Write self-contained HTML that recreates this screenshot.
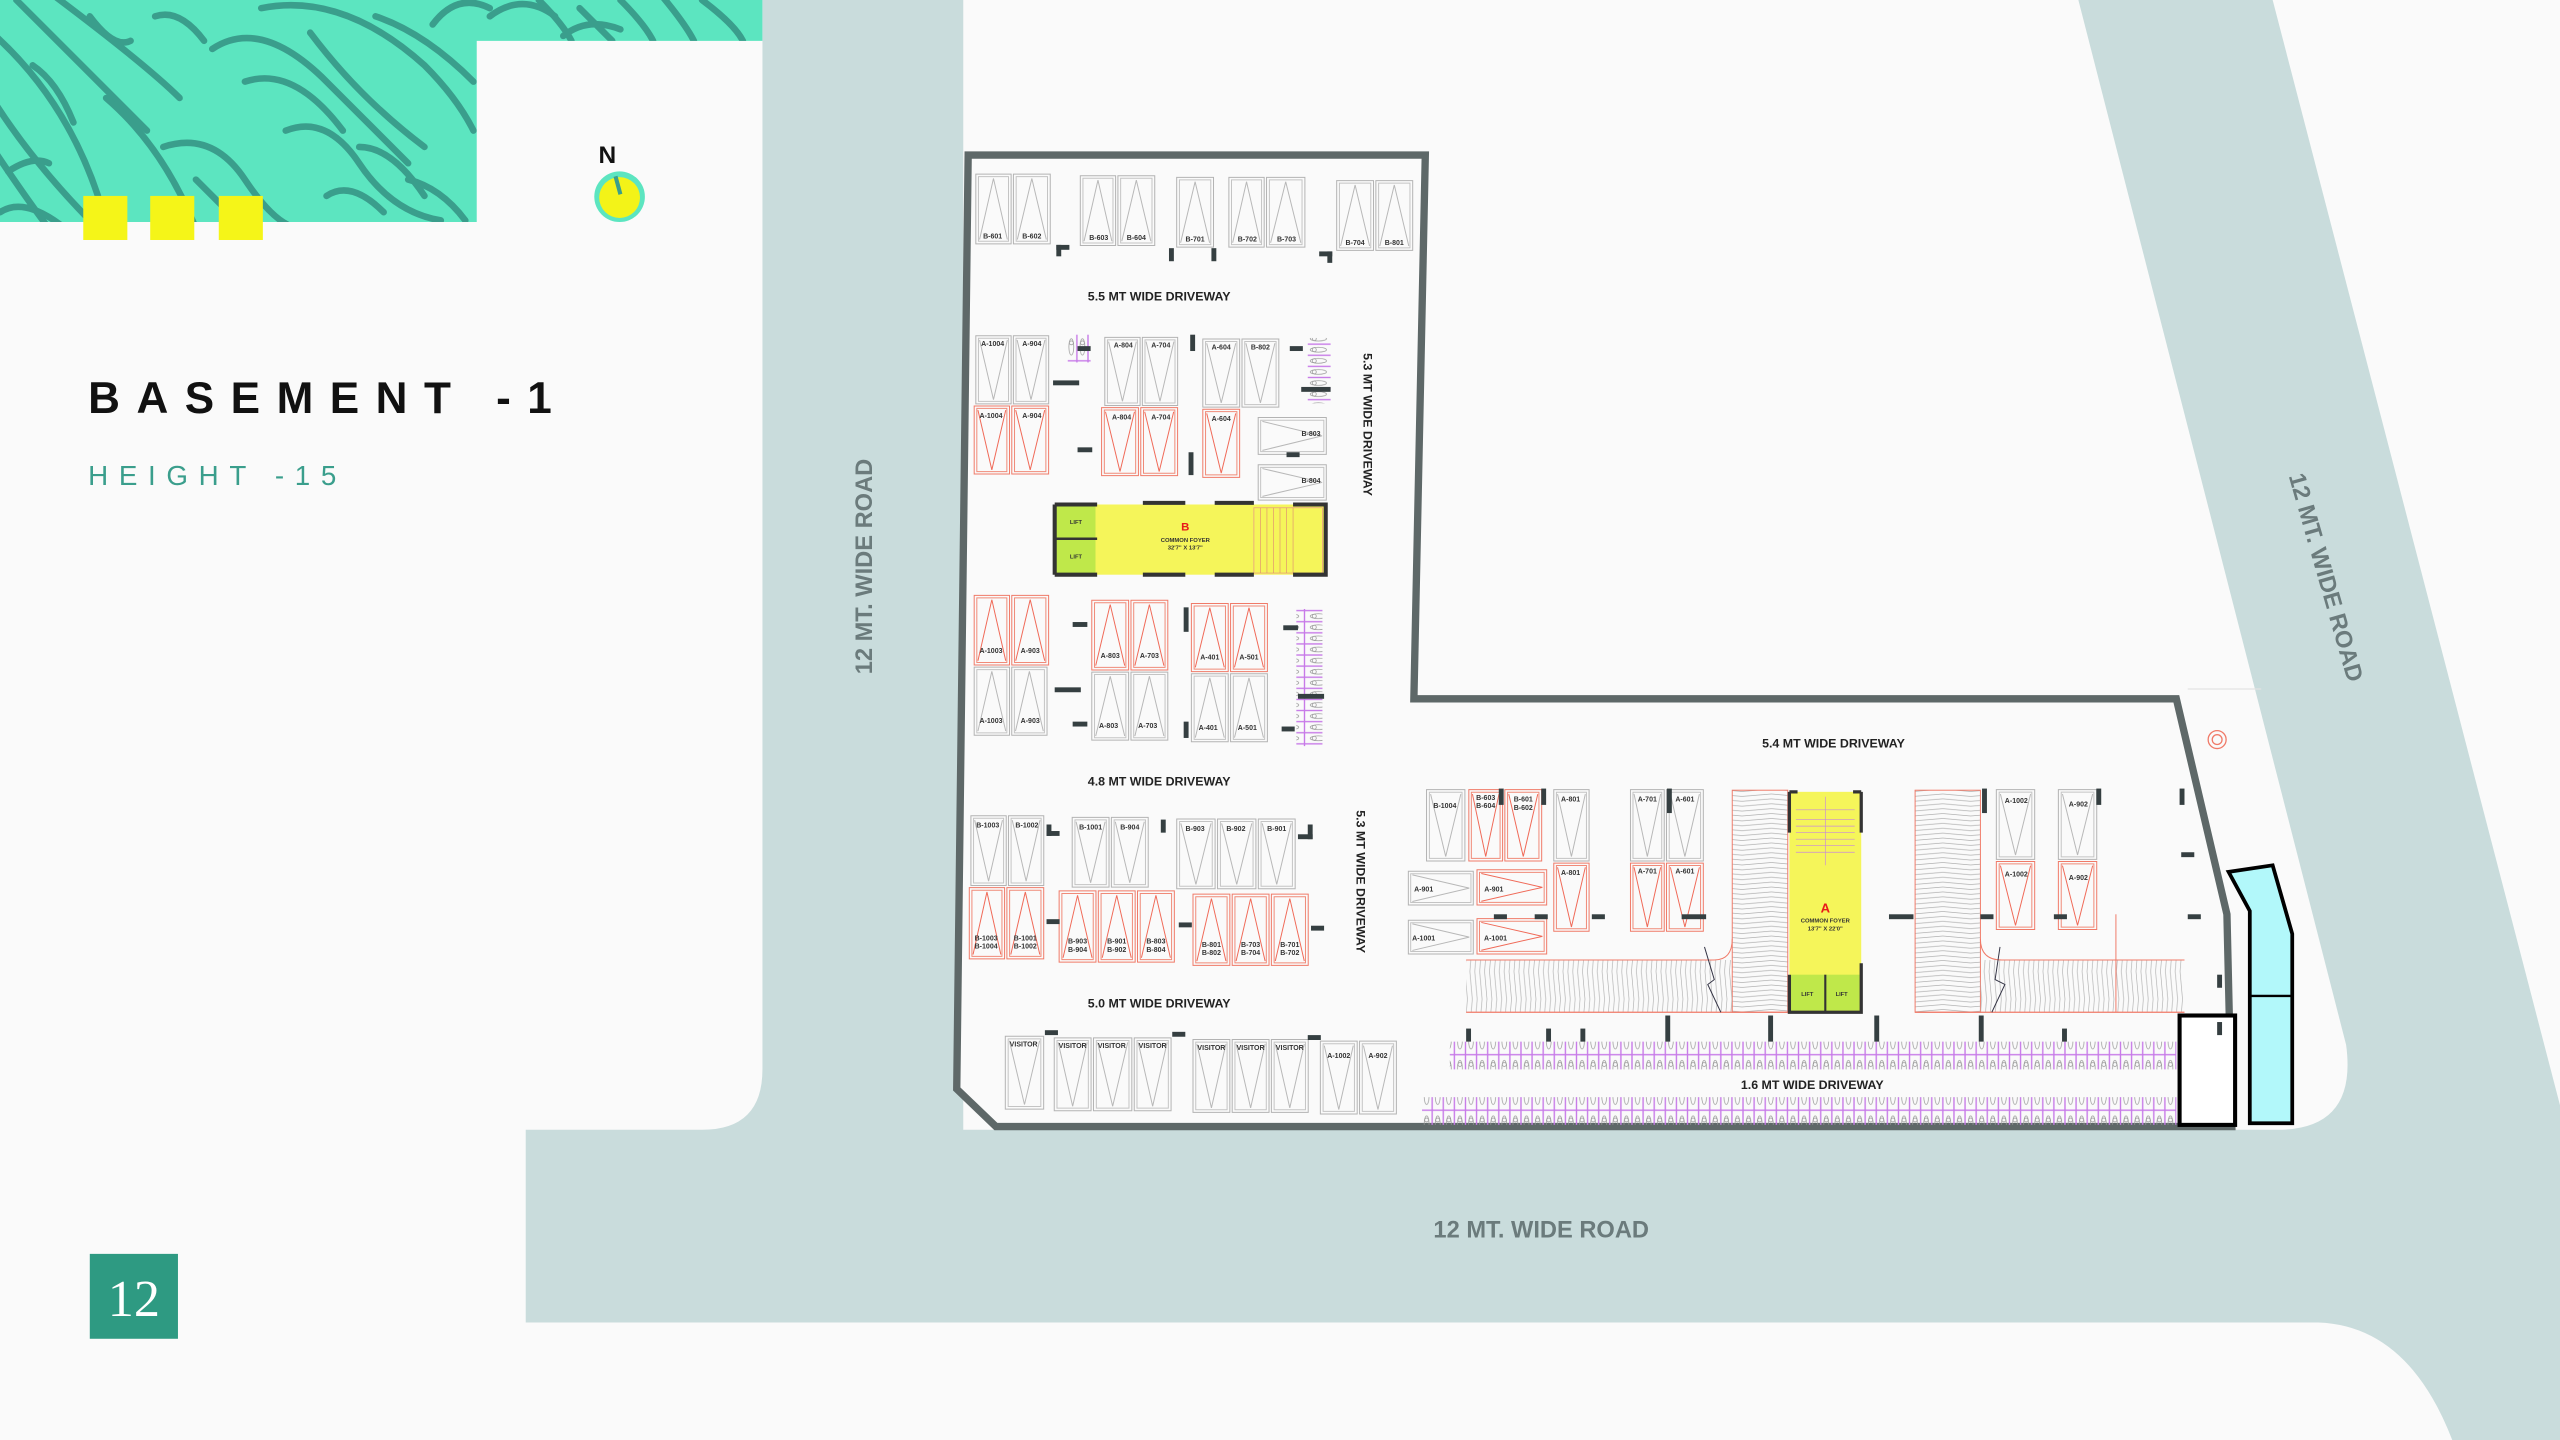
<!DOCTYPE html>
<html><head><meta charset="utf-8"><style>
html,body{margin:0;padding:0;background:#fafafa;}
svg{display:block}
.l{font-family:"Liberation Sans",sans-serif;font-weight:bold;font-size:4.3px;fill:#333;text-anchor:middle}
.d{font-family:"Liberation Sans",sans-serif;font-weight:bold;font-size:7.6px;fill:#222;text-anchor:middle}
.r{font-family:"Liberation Sans",sans-serif;font-weight:bold;font-size:14.5px;fill:#6b7b7c;text-anchor:middle}
</style></head><body>
<svg width="2560" height="1440" viewBox="0 0 1568 882" xmlns="http://www.w3.org/2000/svg">
<defs>
<symbol id="sv" viewBox="0 0 10 20" preserveAspectRatio="none"><rect x=".3" y=".3" width="9.4" height="19.4" fill="none" stroke="#b3b3b3" stroke-width="1" vector-effect="non-scaling-stroke"/><rect x="1" y="1" width="8" height="18" fill="none" stroke="#c4c4c4" stroke-width="1" vector-effect="non-scaling-stroke"/><path d="M1.3 1.5L5 18.5L8.7 1.5" fill="none" stroke="#b8b8b8" stroke-width="1" vector-effect="non-scaling-stroke"/></symbol>
<symbol id="su" viewBox="0 0 10 20" preserveAspectRatio="none"><rect x=".3" y=".3" width="9.4" height="19.4" fill="none" stroke="#b3b3b3" stroke-width="1" vector-effect="non-scaling-stroke"/><rect x="1" y="1" width="8" height="18" fill="none" stroke="#c4c4c4" stroke-width="1" vector-effect="non-scaling-stroke"/><path d="M1.3 18.5L5 1.5L8.7 18.5" fill="none" stroke="#b8b8b8" stroke-width="1" vector-effect="non-scaling-stroke"/></symbol>
<symbol id="rv" viewBox="0 0 10 20" preserveAspectRatio="none"><rect x=".3" y=".3" width="9.4" height="19.4" fill="none" stroke="#f07a68" stroke-width="1" vector-effect="non-scaling-stroke"/><rect x="1" y="1" width="8" height="18" fill="none" stroke="#f08a78" stroke-width="1" vector-effect="non-scaling-stroke"/><path d="M1.3 1.5L5 18.5L8.7 1.5" fill="none" stroke="#f06a58" stroke-width="1" vector-effect="non-scaling-stroke"/></symbol>
<symbol id="ru" viewBox="0 0 10 20" preserveAspectRatio="none"><rect x=".3" y=".3" width="9.4" height="19.4" fill="none" stroke="#f07a68" stroke-width="1" vector-effect="non-scaling-stroke"/><rect x="1" y="1" width="8" height="18" fill="none" stroke="#f08a78" stroke-width="1" vector-effect="non-scaling-stroke"/><path d="M1.3 18.5L5 1.5L8.7 18.5" fill="none" stroke="#f06a58" stroke-width="1" vector-effect="non-scaling-stroke"/></symbol>
<symbol id="gh" viewBox="0 0 20 10" preserveAspectRatio="none"><rect x=".3" y=".3" width="19.4" height="9.4" fill="none" stroke="#b3b3b3" stroke-width="1" vector-effect="non-scaling-stroke"/><rect x="1" y="1" width="18" height="8" fill="none" stroke="#c4c4c4" stroke-width="1" vector-effect="non-scaling-stroke"/><path d="M1.5 1.3L18.5 5L1.5 8.7" fill="none" stroke="#b8b8b8" stroke-width="1" vector-effect="non-scaling-stroke"/></symbol>
<symbol id="rh" viewBox="0 0 20 10" preserveAspectRatio="none"><rect x=".3" y=".3" width="19.4" height="9.4" fill="none" stroke="#f07a68" stroke-width="1" vector-effect="non-scaling-stroke"/><rect x="1" y="1" width="18" height="8" fill="none" stroke="#f08a78" stroke-width="1" vector-effect="non-scaling-stroke"/><path d="M1.5 1.3L18.5 5L1.5 8.7" fill="none" stroke="#f06a58" stroke-width="1" vector-effect="non-scaling-stroke"/></symbol>
<pattern id="bk" width="6.8" height="17" patternUnits="userSpaceOnUse"><rect x=".2" y=".2" width="6.4" height="16.6" fill="none" stroke="#c77ae8" stroke-width=".45"/><ellipse cx="3.4" cy="8.5" rx="1.5" ry="5" fill="none" stroke="#999" stroke-width=".45"/><circle cx="3.4" cy="6" r="1.2" fill="none" stroke="#888" stroke-width=".4"/></pattern>
<pattern id="bkh" width="17" height="6.8" patternUnits="userSpaceOnUse"><rect x=".2" y=".2" width="16.6" height="6.4" fill="none" stroke="#c77ae8" stroke-width=".45"/><ellipse cx="8.5" cy="3.4" rx="5" ry="1.5" fill="none" stroke="#999" stroke-width=".45"/><circle cx="6" cy="3.4" r="1.2" fill="none" stroke="#888" stroke-width=".4"/></pattern>
<pattern id="hv" width="35" height="3" patternUnits="userSpaceOnUse"><path d="M0 0.3L17 1.8L35 0.3" fill="none" stroke="#b0b0b0" stroke-width=".4"/></pattern>
<pattern id="hh" width="3" height="35" patternUnits="userSpaceOnUse"><path d="M0.3 0L1.8 17L0.3 35" fill="none" stroke="#b0b0b0" stroke-width=".4"/></pattern>
<clipPath id="tc"><path d="M0 0H467V25H292V136H0Z"/></clipPath>
</defs>

<!-- roads -->
<rect width="1568" height="882" fill="#c9dcdc"/>
<path d="M0 0H467V655Q467 692 430 692H322V810H1420Q1475 812 1502 882H0Z" fill="#fafafa"/>
<path d="M590 0H1273L1437 640Q1444 692 1395 692H590Z" fill="#fafafa"/>
<path d="M1392 0H1568V677Z" fill="#fafafa"/>
<line x1="1340" y1="422" x2="1385" y2="422" stroke="#e3e3e3" stroke-width=".8"/>

<!-- teal pattern -->
<g clip-path="url(#tc)">
<rect width="467" height="136" fill="#5ce5c0"/>
<g fill="none" stroke="#3a9e8c" stroke-width="4" stroke-linecap="round">
<path d="M-5 20Q40 60 60 120"/><path d="M10 0Q60 50 90 80"/><path d="M30 -5Q90 40 110 60"/>
<path d="M-5 60Q20 100 60 140"/><path d="M-5 90Q15 120 30 140"/><path d="M0 130Q15 120 40 140"/>
<path d="M55 10Q70 30 80 25"/><path d="M65 60Q100 90 120 140"/><path d="M100 90Q130 80 150 110Q170 140 185 140"/>
<path d="M130 30Q160 10 200 50Q230 80 250 100"/><path d="M150 50Q180 40 210 80"/><path d="M190 20Q220 60 260 90"/>
<path d="M160 5Q210 -5 260 40Q280 60 290 80"/><path d="M230 10Q260 20 290 50"/><path d="M175 80Q200 70 220 100Q240 130 270 135"/>
<path d="M220 90Q240 90 260 120"/><path d="M120 110Q140 130 150 140"/><path d="M200 120Q215 110 235 130"/>
<path d="M265 15Q280 -5 300 5"/><path d="M300 10Q320 -5 340 10"/><path d="M330 0Q345 15 350 25"/>
<path d="M355 5Q370 20 375 25"/><path d="M380 0Q395 15 400 25"/><path d="M405 -3Q420 15 425 25"/><path d="M430 0Q450 15 455 25"/><path d="M345 22Q360 10 380 18"/>
<path d="M20 40Q35 50 45 75"/><path d="M95 10Q110 5 125 25"/><path d="M250 110Q270 115 285 135"/><path d="M5 105Q20 95 30 100"/>
</g></g>
<rect x="51" y="120" width="27" height="27" fill="#f5f518"/>
<rect x="92" y="120" width="27" height="27" fill="#f5f518"/>
<rect x="134" y="120" width="27" height="27" fill="#f5f518"/>

<!-- north -->
<text x="372" y="100" font-family="Liberation Sans,sans-serif" font-size="15" font-weight="bold" fill="#111" text-anchor="middle">N</text>
<ellipse cx="379.5" cy="120.5" rx="15.5" ry="15.5" fill="#5ce5c0"/>
<circle cx="379.5" cy="121" r="12.5" fill="#f3f318"/>
<line x1="377" y1="108" x2="380" y2="119" stroke="#3a9e8c" stroke-width="2.5"/>

<!-- titles -->
<text x="54" y="253" font-family="Liberation Sans,sans-serif" font-size="27" font-weight="bold" fill="#111" textLength="284" lengthAdjust="spacing">BASEMENT -1</text>
<text x="54" y="297" font-family="Liberation Sans,sans-serif" font-size="17" fill="#3a9e8c" textLength="152" lengthAdjust="spacing">HEIGHT -15</text>
<rect x="55" y="768" width="54" height="52" fill="#2e9a82"/>
<text x="82" y="806" font-family="Liberation Serif,serif" font-size="32" fill="#fff" text-anchor="middle">12</text>

<!-- road labels -->
<text class="r" transform="translate(534,347) rotate(-90)">12 MT. WIDE ROAD</text>
<text class="r" transform="translate(1420,355) rotate(74)">12 MT. WIDE ROAD</text>
<text class="r" x="944" y="758">12 MT. WIDE ROAD</text>

<!-- plan outline -->
<path d="M593 95H873L866 428H1333L1364 560L1367 690H610L586 667Z" fill="#fafafa" stroke="#5e6868" stroke-width="4.5" stroke-linejoin="miter"/>

<!-- cyan -->
<path d="M1365 534L1392 530L1404 572V688H1378V558Z" fill="#b2f8fa" stroke="#000" stroke-width="2.3"/>
<line x1="1378" y1="610" x2="1404" y2="610" stroke="#000" stroke-width="1.5"/>
<rect x="1335" y="622" width="34" height="67" fill="#fff" stroke="#000" stroke-width="2.5"/>
<circle cx="1358" cy="453" r="5.5" fill="none" stroke="#f07a68" stroke-width=".8"/><circle cx="1358" cy="453" r="3" fill="none" stroke="#f07a68" stroke-width=".8"/>

<!-- driveway labels -->
<text class="d" x="710" y="184">5.5 MT WIDE DRIVEWAY</text>
<text class="d" x="710" y="481">4.8 MT WIDE DRIVEWAY</text>
<text class="d" x="710" y="617">5.0 MT WIDE DRIVEWAY</text>
<text class="d" x="1123" y="458">5.4 MT WIDE DRIVEWAY</text>
<text class="d" x="1110" y="667">1.6 MT WIDE DRIVEWAY</text>
<text class="d" transform="translate(835,260) rotate(90)">5.3 MT WIDE DRIVEWAY</text>
<text class="d" transform="translate(831,540) rotate(90)">5.3 MT WIDE DRIVEWAY</text>

<!-- top row B -->
<g>
<use href="#su" x="597" y="106" width="23" height="44"/><use href="#su" x="620" y="106" width="24" height="44"/>
<use href="#su" x="661" y="107" width="23" height="44"/><use href="#su" x="684" y="107" width="24" height="44"/>
<use href="#su" x="720" y="108" width="24" height="44"/>
<use href="#su" x="752" y="108" width="23" height="44"/><use href="#su" x="775" y="108" width="25" height="44"/>
<use href="#su" x="818" y="110" width="24" height="44"/><use href="#su" x="842" y="110" width="24" height="44"/>
</g>
<text class="l" x="608" y="146">B-601</text><text class="l" x="632" y="146">B-602</text>
<text class="l" x="673" y="147">B-603</text><text class="l" x="696" y="147">B-604</text>
<text class="l" x="732" y="148">B-701</text><text class="l" x="764" y="148">B-702</text><text class="l" x="788" y="148">B-703</text>
<text class="l" x="830" y="150">B-704</text><text class="l" x="854" y="150">B-801</text>

<!-- row 2 -->
<use href="#sv" x="597" y="205" width="23" height="43"/><use href="#sv" x="620" y="205" width="23" height="43"/>
<use href="#sv" x="676" y="206" width="23" height="43"/><use href="#sv" x="699" y="206" width="23" height="43"/>
<use href="#sv" x="736" y="207" width="24" height="43"/><use href="#sv" x="760" y="207" width="24" height="43"/>
<use href="#rv" x="596" y="248" width="23" height="43"/><use href="#rv" x="619" y="248" width="24" height="43"/>
<use href="#rv" x="674" y="249" width="24" height="43"/><use href="#rv" x="698" y="249" width="24" height="43"/>
<use href="#rv" x="736" y="250" width="24" height="43"/>
<use href="#gh" x="770" y="255" width="43" height="24"/><use href="#gh" x="770" y="284" width="43" height="23"/>
<text class="l" x="608" y="212">A-1004</text><text class="l" x="632" y="212">A-904</text>
<text class="l" x="688" y="213">A-804</text><text class="l" x="711" y="213">A-704</text>
<text class="l" x="748" y="214">A-604</text><text class="l" x="772" y="214">B-802</text>
<text class="l" x="607" y="256">A-1004</text><text class="l" x="632" y="256">A-904</text>
<text class="l" x="687" y="257">A-804</text><text class="l" x="711" y="257">A-704</text><text class="l" x="748" y="258">A-604</text>
<text class="l" x="803" y="267">B-803</text><text class="l" x="803" y="296">B-804</text>
<rect x="654" y="205" width="14" height="17" fill="url(#bk)"/>
<rect x="801" y="207" width="14" height="40" fill="url(#bkh)"/>

<!-- foyer B -->
<rect x="646" y="309" width="166" height="43" fill="#f5f55a"/>
<rect x="647" y="310" width="24" height="41" fill="#bfe84a"/>
<line x1="647" y1="330" x2="672" y2="330" stroke="#333" stroke-width="1.5"/>
<rect x="768" y="311" width="42" height="40" fill="none" stroke="#e8a080" stroke-width=".5"/>
<path d="M772 311V351M776 311V351M780 311V351M784 311V351M788 311V351M792 311V351" stroke="#e09070" stroke-width=".4"/>
<path d="M646 309H672M646 352H672M646 309V352" fill="none" stroke="#333" stroke-width="2.5"/>
<path d="M700 308H726M700 352H726M744 308H768M744 352H768M792 309H812V352H792" fill="none" stroke="#333" stroke-width="2.5"/>
<text x="659" y="321" font-family="Liberation Sans,sans-serif" font-size="3.5" font-weight="bold" fill="#333" text-anchor="middle">LIFT</text>
<text x="659" y="342" font-family="Liberation Sans,sans-serif" font-size="3.5" font-weight="bold" fill="#333" text-anchor="middle">LIFT</text>
<text x="726" y="325" font-family="Liberation Sans,sans-serif" font-size="7" font-weight="bold" fill="#e8191a" text-anchor="middle">B</text>
<text x="726" y="332" font-family="Liberation Sans,sans-serif" font-size="3.6" font-weight="bold" fill="#333" text-anchor="middle">COMMON FOYER</text>
<text x="726" y="336.5" font-family="Liberation Sans,sans-serif" font-size="3.6" font-weight="bold" fill="#333" text-anchor="middle">32'7" X 13'7"</text>

<!-- rows 3/4 -->
<use href="#ru" x="596" y="364" width="23" height="44"/><use href="#ru" x="619" y="364" width="24" height="44"/>
<use href="#ru" x="668" y="367" width="24" height="44"/><use href="#ru" x="692" y="367" width="24" height="44"/>
<use href="#ru" x="729" y="369" width="24" height="43"/><use href="#ru" x="753" y="369" width="24" height="43"/>
<use href="#su" x="596" y="408" width="23" height="43"/><use href="#su" x="619" y="408" width="23" height="43"/>
<use href="#su" x="668" y="411" width="24" height="43"/><use href="#su" x="692" y="411" width="24" height="43"/>
<use href="#su" x="729" y="412" width="24" height="43"/><use href="#su" x="753" y="412" width="24" height="43"/>
<rect x="794" y="373" width="16" height="84" fill="url(#bkh)"/>
<text class="l" x="607" y="400">A-1003</text><text class="l" x="631" y="400">A-903</text>
<text class="l" x="680" y="403">A-803</text><text class="l" x="704" y="403">A-703</text>
<text class="l" x="741" y="404">A-401</text><text class="l" x="765" y="404">A-501</text>
<text class="l" x="607" y="443">A-1003</text><text class="l" x="631" y="443">A-903</text>
<text class="l" x="679" y="446">A-803</text><text class="l" x="703" y="446">A-703</text>
<text class="l" x="740" y="447">A-401</text><text class="l" x="764" y="447">A-501</text>

<!-- rows 5/6 -->
<use href="#sv" x="594" y="499" width="23" height="44"/><use href="#sv" x="617" y="499" width="23" height="44"/>
<use href="#sv" x="656" y="500" width="24" height="44"/><use href="#sv" x="680" y="500" width="24" height="44"/>
<use href="#sv" x="720" y="501" width="25" height="44"/><use href="#sv" x="745" y="501" width="25" height="44"/><use href="#sv" x="770" y="501" width="24" height="44"/>
<use href="#ru" x="593" y="543" width="23" height="45"/><use href="#ru" x="616" y="543" width="24" height="45"/>
<use href="#ru" x="648" y="545" width="24" height="45"/><use href="#ru" x="672" y="545" width="24" height="45"/><use href="#ru" x="696" y="545" width="24" height="45"/>
<use href="#ru" x="730" y="547" width="24" height="45"/><use href="#ru" x="754" y="547" width="24" height="45"/><use href="#ru" x="778" y="547" width="24" height="45"/>
<text class="l" x="605" y="507">B-1003</text><text class="l" x="629" y="507">B-1002</text>
<text class="l" x="668" y="508">B-1001</text><text class="l" x="692" y="508">B-904</text>
<text class="l" x="732" y="509">B-903</text><text class="l" x="757" y="509">B-902</text><text class="l" x="782" y="509">B-901</text>
<text class="l" x="604" y="576">B-1003</text><text class="l" x="604" y="581">B-1004</text>
<text class="l" x="628" y="576">B-1001</text><text class="l" x="628" y="581">B-1002</text>
<text class="l" x="660" y="578">B-903</text><text class="l" x="660" y="583">B-904</text>
<text class="l" x="684" y="578">B-901</text><text class="l" x="684" y="583">B-902</text>
<text class="l" x="708" y="578">B-803</text><text class="l" x="708" y="583">B-804</text>
<text class="l" x="742" y="580">B-801</text><text class="l" x="742" y="585">B-802</text>
<text class="l" x="766" y="580">B-703</text><text class="l" x="766" y="585">B-704</text>
<text class="l" x="790" y="580">B-701</text><text class="l" x="790" y="585">B-702</text>

<!-- row 7 visitor -->
<use href="#sv" x="615" y="634" width="25" height="46"/>
<use href="#sv" x="645" y="635" width="24" height="46"/><use href="#sv" x="669" y="635" width="25" height="46"/><use href="#sv" x="694" y="635" width="24" height="46"/>
<use href="#sv" x="730" y="636" width="24" height="46"/><use href="#sv" x="754" y="636" width="24" height="46"/><use href="#sv" x="778" y="636" width="24" height="46"/>
<use href="#sv" x="808" y="637" width="24" height="46"/><use href="#sv" x="832" y="637" width="24" height="46"/>
<text class="l" x="627" y="641">VISITOR</text><text class="l" x="657" y="642">VISITOR</text><text class="l" x="681" y="642">VISITOR</text><text class="l" x="706" y="642">VISITOR</text>
<text class="l" x="742" y="643">VISITOR</text><text class="l" x="766" y="643">VISITOR</text><text class="l" x="790" y="643">VISITOR</text>
<text class="l" x="820" y="648">A-1002</text><text class="l" x="844" y="648">A-902</text>

<!-- right wing slots -->
<use href="#sv" x="873" y="483" width="25" height="45"/>
<use href="#rv" x="899" y="483" width="22" height="45"/><use href="#rv" x="921" y="483" width="24" height="45"/>
<use href="#sv" x="951" y="483" width="23" height="45"/>
<use href="#sv" x="998" y="483" width="22" height="45"/><use href="#sv" x="1020" y="483" width="24" height="45"/>
<use href="#rv" x="951" y="528" width="23" height="43"/>
<use href="#rv" x="998" y="528" width="22" height="43"/><use href="#rv" x="1020" y="528" width="24" height="43"/>
<use href="#gh" x="862" y="533" width="41" height="22"/><use href="#rh" x="904" y="532" width="44" height="23"/>
<use href="#gh" x="862" y="563" width="41" height="22"/><use href="#rh" x="904" y="562" width="44" height="23"/>
<use href="#sv" x="1222" y="483" width="25" height="44"/><use href="#sv" x="1260" y="483" width="25" height="44"/>
<use href="#rv" x="1222" y="527" width="25" height="43"/><use href="#rv" x="1260" y="527" width="25" height="43"/>
<text class="l" x="885" y="495">B-1004</text>
<text class="l" x="910" y="490">B-603</text><text class="l" x="910" y="495">B-604</text>
<text class="l" x="933" y="491">B-601</text><text class="l" x="933" y="496">B-602</text>
<text class="l" x="962" y="491">A-801</text><text class="l" x="1009" y="491">A-701</text><text class="l" x="1032" y="491">A-601</text>
<text class="l" x="962" y="536">A-801</text><text class="l" x="1009" y="535">A-701</text><text class="l" x="1032" y="535">A-601</text>
<text class="l" x="872" y="546">A-901</text><text class="l" x="915" y="546">A-901</text>
<text class="l" x="872" y="576">A-1001</text><text class="l" x="916" y="576">A-1001</text>
<text class="l" x="1235" y="492">A-1002</text><text class="l" x="1273" y="494">A-902</text>
<text class="l" x="1235" y="537">A-1002</text><text class="l" x="1273" y="539">A-902</text>

<!-- ramps -->
<rect x="1061" y="484" width="34" height="136" fill="url(#hv)" stroke="#f07a68" stroke-width=".6"/>
<rect x="898" y="588" width="163" height="32" fill="url(#hh)"/>
<path d="M898 588H1050Q1061 588 1061 575" fill="none" stroke="#f07a68" stroke-width=".6"/>
<line x1="898" y1="620" x2="1095" y2="620" stroke="#f07a68" stroke-width=".8"/>
<rect x="1173" y="484" width="40" height="136" fill="url(#hv)" stroke="#f07a68" stroke-width=".6"/>
<rect x="1213" y="588" width="125" height="32" fill="url(#hh)"/>
<path d="M1213 575Q1213 588 1226 588H1338" fill="none" stroke="#f07a68" stroke-width=".6"/>
<line x1="1173" y1="620" x2="1338" y2="620" stroke="#f07a68" stroke-width=".8"/>
<line x1="1296" y1="560" x2="1296" y2="620" stroke="#f07a68" stroke-width=".6"/>
<path d="M1044 580L1050 600L1046 603L1054 620" fill="none" stroke="#334" stroke-width=".6"/>
<path d="M1225 580L1222 600L1228 603L1220 620" fill="none" stroke="#334" stroke-width=".6"/>

<!-- foyer A -->
<rect x="1096" y="485" width="44" height="135" fill="#f5f55a"/>
<rect x="1097" y="597" width="42" height="22" fill="#bfe84a"/>
<line x1="1118" y1="597" x2="1118" y2="620" stroke="#333" stroke-width="1.3"/>
<path d="M1100 496H1136M1100 502H1136M1100 506H1136M1100 510H1136M1100 514H1136M1100 518H1136M1100 522H1136M1118 488V530" stroke="#c98ad8" stroke-width=".4"/>
<path d="M1096 485V510M1140 485V510M1096 597V620H1140V590M1096 485H1101M1135 485H1140" fill="none" stroke="#333" stroke-width="2"/>
<text x="1118" y="559" font-family="Liberation Sans,sans-serif" font-size="8" font-weight="bold" fill="#e8191a" text-anchor="middle">A</text>
<text x="1118" y="565" font-family="Liberation Sans,sans-serif" font-size="3.6" font-weight="bold" fill="#333" text-anchor="middle">COMMON FOYER</text>
<text x="1118" y="570" font-family="Liberation Sans,sans-serif" font-size="3.6" font-weight="bold" fill="#333" text-anchor="middle">13'7" X 22'0"</text>
<text x="1107" y="610" font-family="Liberation Sans,sans-serif" font-size="3.5" font-weight="bold" fill="#333" text-anchor="middle">LIFT</text>
<text x="1128" y="610" font-family="Liberation Sans,sans-serif" font-size="3.5" font-weight="bold" fill="#333" text-anchor="middle">LIFT</text>

<!-- bike rows -->
<rect x="888" y="638" width="445" height="17" fill="url(#bk)"/>
<rect x="871" y="672" width="462" height="17" fill="url(#bk)"/>

<!-- pillars -->
<g fill="#353f41">
<rect x="647" y="150" width="3" height="7"/><rect x="647" y="150" width="8" height="3"/>
<rect x="716" y="152" width="3" height="8"/><rect x="742" y="152" width="3" height="8"/>
<rect x="808" y="154" width="8" height="3"/><rect x="813" y="154" width="3" height="7"/>
<rect x="660" y="212" width="8" height="3"/><rect x="645" y="233" width="16" height="3"/><rect x="729" y="205" width="3" height="10"/>
<rect x="790" y="212" width="8" height="3"/><rect x="797" y="237" width="18" height="3"/><rect x="660" y="274" width="9" height="3"/><rect x="728" y="277" width="3" height="14"/><rect x="788" y="277" width="8" height="3"/>
<rect x="657" y="381" width="9" height="3"/><rect x="646" y="421" width="16" height="3"/><rect x="657" y="442" width="9" height="3"/>
<rect x="725" y="372" width="3" height="15"/><rect x="725" y="442" width="3" height="10"/><rect x="786" y="383" width="9" height="3"/><rect x="795" y="425" width="16" height="3"/><rect x="785" y="445" width="8" height="3"/>
<rect x="641" y="505" width="3" height="7"/><rect x="641" y="509" width="8" height="3"/><rect x="711" y="502" width="3" height="8"/><rect x="795" y="511" width="9" height="3"/><rect x="801" y="505" width="3" height="9"/>
<rect x="641" y="563" width="8" height="3"/><rect x="722" y="565" width="8" height="3"/><rect x="803" y="567" width="8" height="3"/>
<rect x="640" y="631" width="8" height="3"/><rect x="718" y="632" width="8" height="3"/><rect x="801" y="634" width="8" height="3"/>
<rect x="918" y="483" width="3" height="10"/><rect x="944" y="483" width="3" height="10"/><rect x="1021" y="483" width="3" height="15"/>
<rect x="1284" y="483" width="3" height="10"/><rect x="1335" y="483" width="3" height="10"/><rect x="1214" y="483" width="3" height="15"/>
<rect x="915" y="560" width="8" height="3"/><rect x="940" y="560" width="8" height="3"/><rect x="975" y="560" width="8" height="3"/><rect x="1030" y="560" width="15" height="3"/><rect x="1157" y="560" width="15" height="3"/><rect x="1213" y="560" width="8" height="3"/><rect x="1258" y="560" width="8" height="3"/><rect x="1340" y="560" width="8" height="3"/>
<rect x="1336" y="522" width="8" height="3"/><rect x="1358" y="597" width="3" height="8"/><rect x="1358" y="626" width="3" height="8"/>
<rect x="898" y="630" width="3" height="8"/><rect x="947" y="630" width="3" height="8"/><rect x="968" y="630" width="3" height="8"/>
<rect x="1020" y="622" width="3" height="16"/><rect x="1083" y="622" width="3" height="16"/><rect x="1148" y="622" width="3" height="16"/><rect x="1212" y="622" width="3" height="16"/><rect x="1263" y="630" width="3" height="8"/>
</g>
</svg>
</body></html>
